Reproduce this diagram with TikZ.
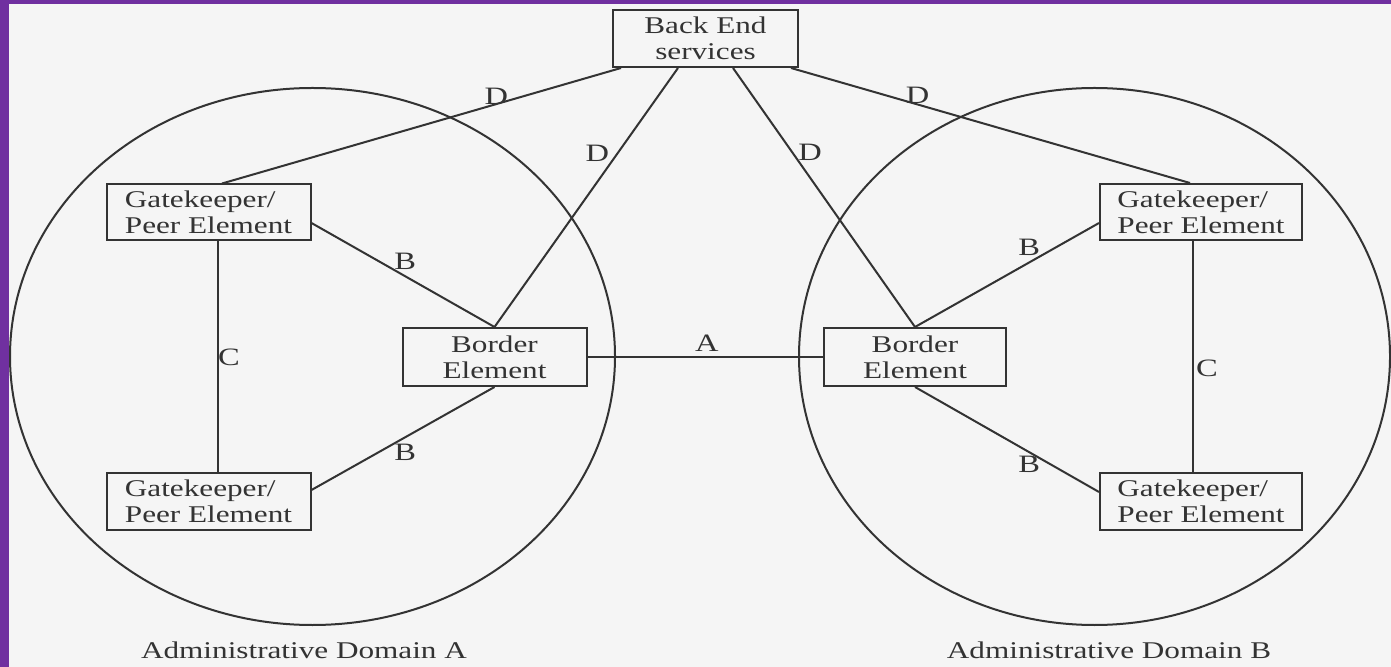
\documentclass[tikz,border=0pt]{standalone}
\usepackage{fontspec}
\setmainfont{Liberation Serif}[FakeStretch=1.3]
\usetikzlibrary{shapes.geometric,calc}
\definecolor{frame}{HTML}{7030A0}
\definecolor{paper}{HTML}{F5F5F5}
\definecolor{ink}{HTML}{333333}
\begin{document}
\begin{tikzpicture}[x=0.5pt,y=-0.5pt,
  font=\fontsize{12}{13}\selectfont,
  box/.style={draw=ink, line width=1pt, inner sep=0pt, text=ink, fill=none},
  gkbox/.style={box, align=left, minimum width=102pt, minimum height=28pt},
  bebox/.style={box, align=center, minimum width=92pt, minimum height=29pt},
  domring/.style={ellipse, draw=ink, line width=1pt, inner sep=0pt},
  link/.style={draw=ink, line width=1pt},
  lab/.style={text=ink, inner sep=0pt, font=\fontsize{12.5}{14}\selectfont},
  domcap/.style={text=ink, inner sep=0pt}]
\fill[paper] (0,0) rectangle (1391,667);
\fill[frame] (0,0) rectangle (9,667);
\fill[frame] (0,0) rectangle (1391,4);
\useasboundingbox (0,0) rectangle (1391,667);

% domains
\node[domring, minimum width=302.5pt, minimum height=268.5pt] (domA) at (312.5,356.5) {};
\node[domring, minimum width=295.5pt, minimum height=268.5pt] (domB) at (1094.5,356.5) {};
\node[domcap] (capA) at (304,650) {Administrative Domain A};
\node[domcap] (capB) at (1109,650) {Administrative Domain B};

% boxes
\node[bebox, minimum width=92.5pt, minimum height=28.5pt] (back) at (705.5,38.5) {Back End\\services};
\node[gkbox] (gkA1) at (208.5,212.5) {Gatekeeper/\\Peer Element};
\node[gkbox] (gkA2) at (208.5,501.5) {Gatekeeper/\\Peer Element};
\node[gkbox, minimum width=101pt] (gkB1) at (1201,212) {Gatekeeper/\\Peer Element};
\node[gkbox, minimum width=101pt] (gkB2) at (1201,501.5) {Gatekeeper/\\Peer Element};
\node[bebox] (beA) at (494.5,357) {Border\\Element};
\node[bebox, minimum width=91pt] (beB) at (915,357) {Border\\Element};

% D links
\draw[link] ($(back.south west)+(9,0)$) -- ($(gkA1.north)+(13.5,0)$)
  node[lab, pos=0.3125, shift={(0,-8)}] (dA1) {D};
\draw[link] ($(back.south)+(-27.5,0)$) -- (beA.north)
  node[lab, pos=0.33, shift={(-20,0)}] (dA2) {D};
\draw[link] ($(back.south)+(27.5,0)$) -- (beB.north)
  node[lab, pos=0.325, shift={(18,0)}] (dB2) {D};
\draw[link] ($(back.south east)+(-8,0)$) -- ($(gkB1.north)+(-11,0)$)
  node[lab, pos=0.3175, shift={(0,-9)}] (dB1) {D};

% B links
\draw[link] ($(gkA1.east)+(0,10.5)$) -- (beA.north)
  node[lab, pos=0.512, shift={(0,-15)}] (bA1) {B};
\draw[link] ($(gkA2.east)+(0,-11.5)$) -- (beA.south)
  node[lab, pos=0.512, shift={(0,15)}] (bA2) {B};
\draw[link] (beB.north) -- ($(gkB1.west)+(0,11)$)
  node[lab, pos=0.62, shift={(0,-15)}] (bB1) {B};
\draw[link] (beB.south) -- ($(gkB2.west)+(0,-9.5)$)
  node[lab, pos=0.62, shift={(0,12)}] (bB2) {B};

% C links
\draw[link] ($(gkA1.south)+(9.5,0)$) -- ($(gkA2.north)+(9.5,0)$)
  node[lab, pos=0.5, shift={(11,0)}] (cA) {C};
\draw[link] ($(gkB1.south)+(-8,0)$) -- ($(gkB2.north)+(-8,0)$)
  node[lab, pos=0.55, shift={(14,0)}] (cB) {C};

% A link
\draw[link] (beA.east) -- (beB.west)
  node[lab, pos=0.507, shift={(0,-14)}] (aAB) {A};
\end{tikzpicture}
\end{document}
